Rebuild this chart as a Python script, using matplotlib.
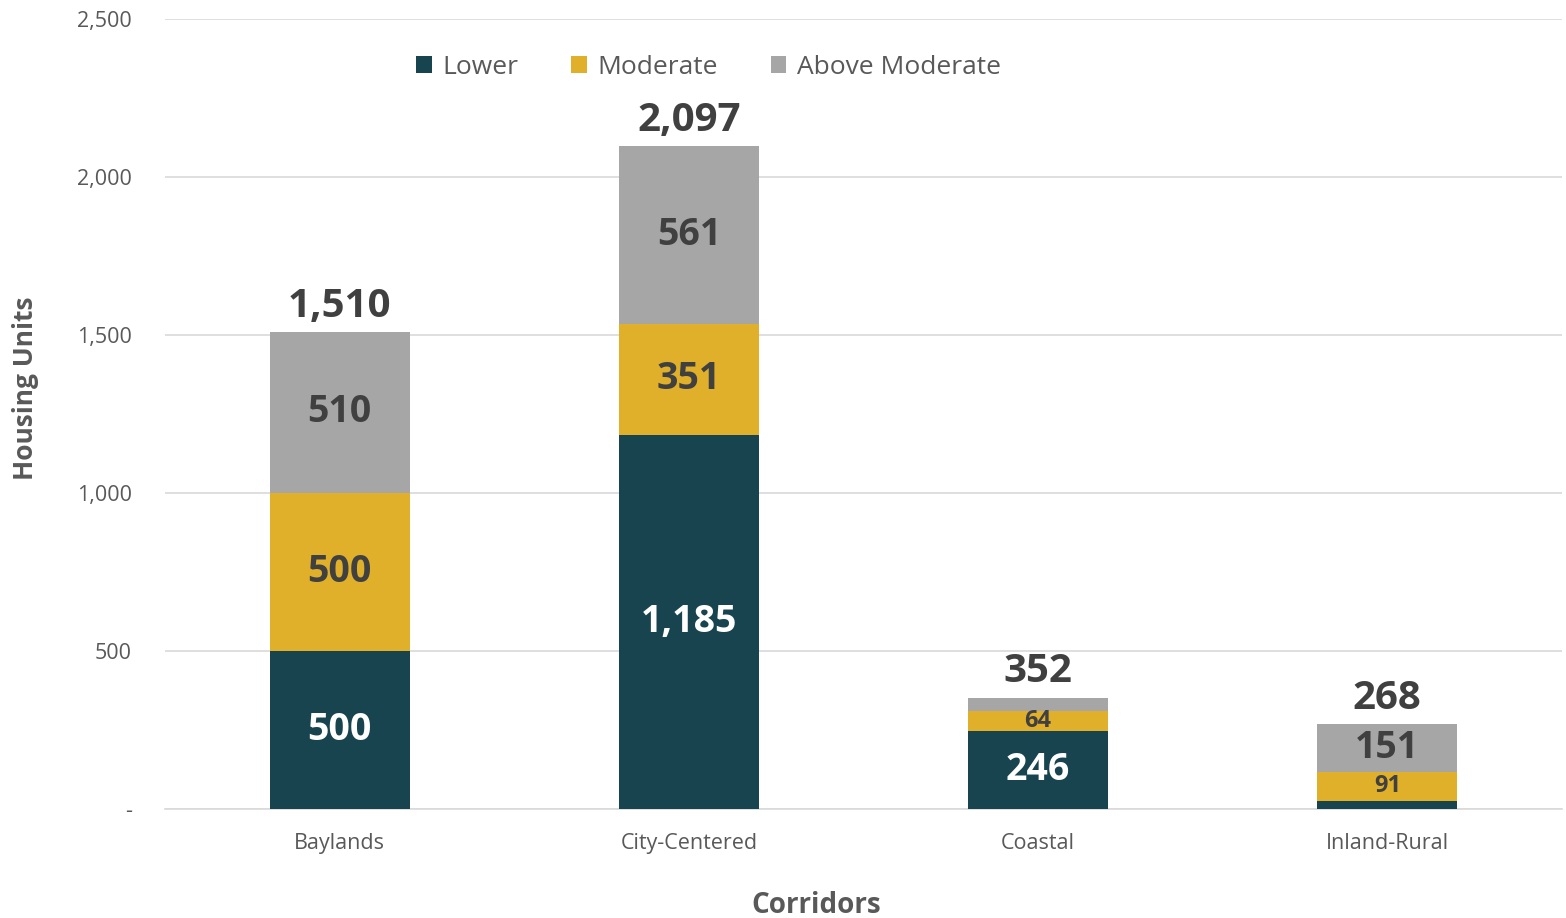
import matplotlib.pyplot as plt
import numpy as np

plt.rcParams['font.family'] = ['Open Sans', 'DejaVu Sans']

corridors = ['Baylands', 'City-Centered', 'Coastal', 'Inland-Rural']
lower = [500, 1185, 246, 26]
moderate = [500, 351, 64, 91]
above = [510, 561, 42, 151]
totals = [1510, 2097, 352, 268]

# which segment values are printed (small ones are left out)
show_lower = [True, True, True, False]
show_above = [True, True, False, True]

c_low = '#17444f'
c_mod = '#e0b02a'
c_abv = '#a6a6a6'
txt = '#404040'
tick = '#595959'

fig = plt.figure(figsize=(15.66, 9.18), dpi=100)
ax = fig.add_axes([0.1054, 0.1187, 0.892, 0.8606])

x = np.arange(len(corridors))
w = 0.4
low = np.array(lower)
mod = np.array(moderate)
abv = np.array(above)

ax.bar(x, low, w, color=c_low, label='Lower', zorder=3)
ax.bar(x, mod, w, bottom=low, color=c_mod, label='Moderate', zorder=3)
ax.bar(x, abv, w, bottom=low + mod, color=c_abv, label='Above Moderate', zorder=3)

seg_big = 27
seg_small = 17
for i in range(len(x)):
    if show_lower[i]:
        ax.text(x[i], low[i] / 2, f'{lower[i]:,}', ha='center', va='center',
                color='white', fontsize=seg_big, fontweight='bold', zorder=4)
    ax.text(x[i], low[i] + mod[i] / 2, f'{moderate[i]:,}', ha='center', va='center',
            color=txt, fontsize=seg_big if i < 2 else seg_small, fontweight='bold', zorder=4)
    if show_above[i]:
        ax.text(x[i], low[i] + mod[i] + abv[i] / 2, f'{above[i]:,}', ha='center', va='center',
                color=txt, fontsize=seg_big, fontweight='bold', zorder=4)
    ax.text(x[i], totals[i] + 20, f'{totals[i]:,}', ha='center', va='bottom',
            color=txt, fontsize=29, fontweight='bold', zorder=4)

ax.set_xlim(-0.5, 3.5)
ax.set_ylim(0, 2500)
ax.set_yticks([0, 500, 1000, 1500, 2000, 2500])
ax.set_yticklabels(['-', '500', '1,000', '1,500', '2,000', '2,500'])
ax.set_xticks(x)
ax.set_xticklabels(corridors)
ax.tick_params(axis='both', length=0, colors=tick, labelsize=15.5)
ax.tick_params(axis='y', pad=24)
ax.tick_params(axis='x', pad=17)
ax.grid(axis='y', color='#d9d9d9', linewidth=1.2, zorder=0)
for s in ['top', 'right', 'left']:
    ax.spines[s].set_visible(False)
ax.spines['bottom'].set_color('#d9d9d9')
ax.spines['bottom'].set_linewidth(1.2)

ax.set_ylabel('Housing Units', fontsize=19, fontweight='bold', color=tick)
ax.yaxis.set_label_coords(-0.09, 0.533)
ax.set_xlabel('Corridors', fontsize=20, fontweight='bold', color=tick)
ax.xaxis.set_label_coords(0.466, -0.104)

leg = ax.legend(loc='upper center', bbox_to_anchor=(0.389, 0.985), ncol=3, frameon=False,
                fontsize=19, handlelength=0.6, handleheight=0.6, handletextpad=0.4,
                columnspacing=2.0, labelcolor=tick)

fig.savefig('out.png', dpi=100)
